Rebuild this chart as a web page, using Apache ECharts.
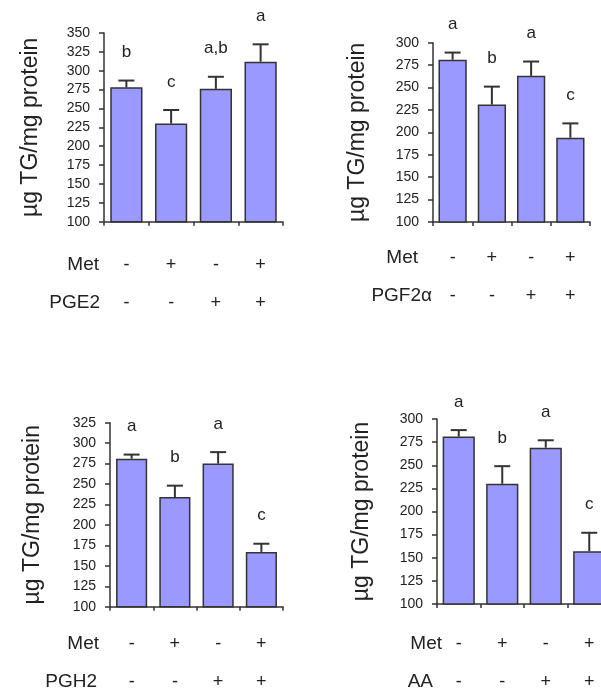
<!DOCTYPE html>
<html>
<head>
<meta charset="utf-8">
<script src="https://cdn.jsdelivr.net/npm/echarts@6/dist/echarts.min.js"></script>
<style>
  html, body { margin: 0; padding: 0; background: #fff; }
  #chart { width: 601px; height: 694px; }
</style>
</head>
<body>
<div id="chart"></div>
<script>
// Triglyceride content (µg TG/mg protein) per treatment group
const categories = ['1', '2', '3', '4'];
const metSigns = ['-', '+', '-', '+'];
const drugSigns = ['-', '-', '+', '+'];
const rowTitle = 'Met';
const drugNames = ['PGE2', 'PGF2α', 'PGH2', 'AA'];
const yTitle = 'µg TG/mg protein';

const pge2Means = [278, 230, 276, 312];
const pge2Errors = [9, 18, 16, 23];
const pge2Letters = ['b', 'c', 'a,b', 'a'];

const pgf2aMeans = [281, 231, 263, 194];
const pgf2aErrors = [8, 20, 16, 16];
const pgf2aLetters = ['a', 'b', 'a', 'c'];

const pgh2Means = [281, 234, 275, 167];
const pgh2Errors = [5, 14, 14, 10];
const pgh2Letters = ['a', 'b', 'a', 'c'];

const aaMeans = [281, 230, 269, 157];
const aaErrors = [7, 19, 8, 20];
const aaLetters = ['a', 'b', 'a', 'c'];

const yMin = 100;
const yMaxes = [350, 300, 325, 300];
const yStep = 25;

const panels = [
  { means: pge2Means, errors: pge2Errors, letters: pge2Letters },
  { means: pgf2aMeans, errors: pgf2aErrors, letters: pgf2aLetters },
  { means: pgh2Means, errors: pgh2Errors, letters: pgh2Letters },
  { means: aaMeans, errors: aaErrors, letters: aaLetters }
];

// Layout of the four plot areas (the last one runs past the right edge)
const grids = [
  { left: 104, top: 33, width: 179, height: 188.7 },
  { left: 433, top: 42.7, width: 157, height: 179.3 },
  { left: 110, top: 422.7, width: 173, height: 184 },
  { left: 437, top: 419, width: 174, height: 185 }
];
const barWidths = ['72%', '72%', '72%', '74%'];
const signMargins = [24, 17, 18, 21];
const nameGaps = [62, 64, 66, 64];
// Row header placement: [metRight, metY, drugRight, drugY]
const rowHeaderPos = [
  [99, 265, 100, 303],
  [418, 258, 432, 296],
  [99, 644, 97, 682],
  [442, 644, 433, 682]
];

const FONT = 'Liberation Sans, Arial, sans-serif';
const INK = '#222';
const AXIS = '#333';
const FILL = '#9999ff';

const chart = echarts.init(document.getElementById('chart'), null, { renderer: 'canvas' });

const xAxes = [], yAxes = [], series = [], graphics = [];

panels.forEach((p, k) => {
  xAxes.push({
    type: 'category',
    gridIndex: k,
    data: categories,
    axisLine: { lineStyle: { color: AXIS, width: 1.5 } },
    axisTick: { show: true, length: 4, lineStyle: { color: AXIS, width: 1.5 } },
    axisLabel: {
      margin: signMargins[k],
      interval: 0,
      formatter: (v, i) => '{s|' + metSigns[i] + '}\n{s|' + drugSigns[i] + '}',
      rich: { s: { fontFamily: FONT, fontSize: 18, lineHeight: 38, color: INK } }
    }
  });
  yAxes.push({
    type: 'value',
    gridIndex: k,
    min: yMin,
    max: yMaxes[k],
    interval: yStep,
    name: yTitle,
    nameLocation: 'middle',
    nameRotate: 90,
    nameGap: nameGaps[k],
    nameTextStyle: { fontFamily: FONT, fontSize: 23, color: INK },
    axisLine: { show: true, lineStyle: { color: AXIS, width: 1.5 } },
    axisTick: { show: true, length: 5, lineStyle: { color: AXIS, width: 1.5 } },
    axisLabel: { margin: 14, fontFamily: FONT, fontSize: 14, color: INK },
    splitLine: { show: false }
  });
  series.push({
    type: 'bar',
    xAxisIndex: k,
    yAxisIndex: k,
    data: p.means,
    barWidth: barWidths[k],
    itemStyle: { color: FILL, borderColor: AXIS, borderWidth: 1.5 },
    silent: true,
    z: 2
  });
  series.push({
    type: 'custom',
    xAxisIndex: k,
    yAxisIndex: k,
    data: p.means.map((m, i) => [i, m, p.errors[i]]),
    clip: false,
    z: 3,
    renderItem: (params, api) => {
      const i = api.value(0);
      const mean = api.value(1);
      const err = api.value(2);
      const base = api.coord([i, mean]);
      const top = api.coord([i, mean + err]);
      const cap = 8;
      return {
        type: 'group',
        children: [
          { type: 'line', shape: { x1: base[0], y1: base[1], x2: top[0], y2: top[1] },
            style: { stroke: AXIS, lineWidth: 2 } },
          { type: 'line', shape: { x1: top[0] - cap, y1: top[1], x2: top[0] + cap, y2: top[1] },
            style: { stroke: AXIS, lineWidth: 2 } },
          { type: 'text', x: top[0], y: top[1] - 28,
            style: { text: p.letters[params.dataIndex], fontFamily: FONT, fontSize: 17,
                     fill: INK, align: 'center', verticalAlign: 'middle' } }
        ]
      };
    }
  });
  const pos = rowHeaderPos[k];
  graphics.push({
    type: 'text', x: pos[0], y: pos[1],
    style: { text: rowTitle, fontFamily: FONT, fontSize: 19, fill: INK, align: 'right', verticalAlign: 'middle' }
  });
  graphics.push({
    type: 'text', x: pos[2], y: pos[3],
    style: { text: drugNames[k], fontFamily: FONT, fontSize: 19, fill: INK, align: 'right', verticalAlign: 'middle' }
  });
});

chart.setOption({
  animation: false,
  backgroundColor: '#fff',
  grid: grids.map(g => Object.assign({ containLabel: false, outerBoundsMode: 'none' }, g)),
  xAxis: xAxes,
  yAxis: yAxes,
  series: series,
  graphic: graphics
});
</script>
</body>
</html>
